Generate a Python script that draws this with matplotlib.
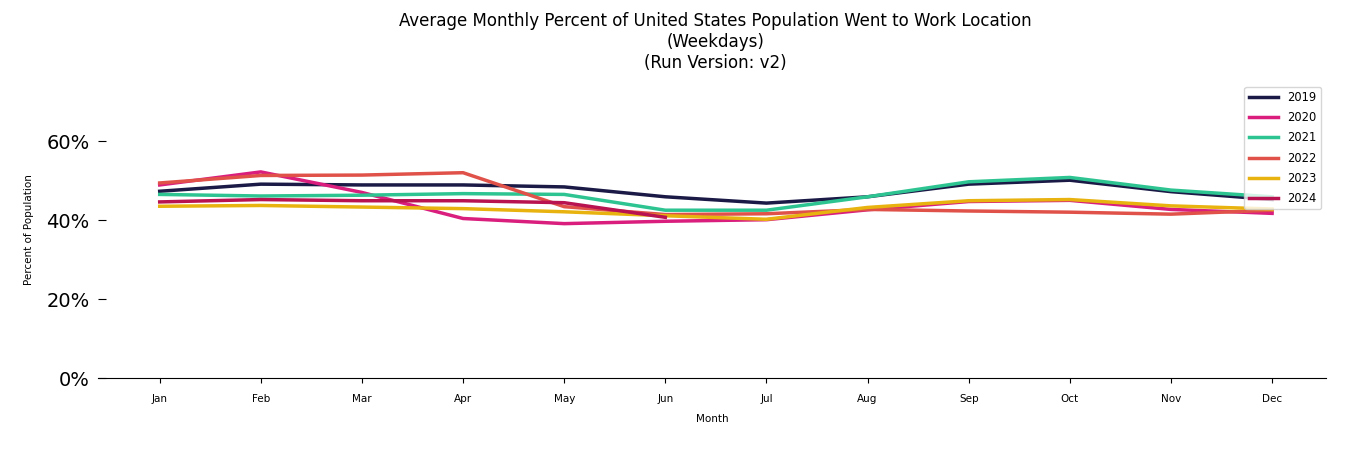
import matplotlib
matplotlib.use("Agg")
import matplotlib.pyplot as plt
from matplotlib.ticker import PercentFormatter

# Meses del eje x
months = ["Jan", "Feb", "Mar", "Apr", "May", "Jun", "Jul", "Aug", "Sep", "Oct", "Nov", "Dec"]

# Porcentaje promedio por año
pct_2019 = [47.3, 49.1, 48.9, 48.9, 48.4, 45.9, 44.3, 45.9, 49.1, 50.1, 47.2, 45.2]
pct_2020 = [48.9, 52.2, 47.0, 40.4, 39.1, 39.7, 40.1, 42.6, 44.7, 45.0, 42.7, 41.7]
pct_2021 = [46.5, 46.1, 46.3, 46.7, 46.5, 42.5, 42.5, 45.9, 49.7, 50.8, 47.6, 45.9]
pct_2022 = [49.4, 51.3, 51.4, 52.0, 43.4, 41.4, 41.6, 42.7, 42.3, 42.0, 41.5, 42.5]
pct_2023 = [43.5, 43.7, 43.3, 42.9, 42.1, 41.1, 40.2, 43.2, 44.9, 45.2, 43.6, 42.8]
pct_2024 = [44.6, 45.2, 44.9, 44.9, 44.4, 40.7]

years = ["2019", "2020", "2021", "2022", "2023", "2024"]
series = [pct_2019, pct_2020, pct_2021, pct_2022, pct_2023, pct_2024]
colors = ["#1b1a47", "#d91e7d", "#2ec492", "#e05249", "#e8b20f", "#b81250"]

fig = plt.figure(figsize=(13.5, 4.5), dpi=100)
ax = fig.add_axes([0.0726, 0.16, 0.9094, 0.658])

for year, vals, color in zip(years, series, colors):
    ax.plot(months[:len(vals)], [v / 100 for v in vals], color=color, linewidth=2.5, label=year)

ax.set_ylim(0, 0.75)
ax.set_xlim(-0.61, 11.53)
ax.set_yticks([0, 0.2, 0.4, 0.6])
ax.yaxis.set_major_formatter(PercentFormatter(1.0, decimals=0))
ax.tick_params(axis="y", labelsize=14, length=6, direction="in", pad=6)
ax.tick_params(axis="x", labelsize=7.5, length=3.5, pad=8)

for side in ["top", "right", "left"]:
    ax.spines[side].set_visible(False)

ax.set_xlabel("Month", fontsize=7.5, labelpad=7)
ax.set_ylabel("Percent of Population", fontsize=7.5, labelpad=9)
ax.set_title("Average Monthly Percent of United States Population Went to Work Location\n"
             "(Weekdays)\n(Run Version: v2)", fontsize=13.3, fontstretch="condensed",
             pad=10, x=0.503)

ax.legend(loc="upper right", fontsize=8.3, handlelength=2.5, labelspacing=0.62, borderaxespad=0.4)

fig.savefig("out.png", dpi=100)
